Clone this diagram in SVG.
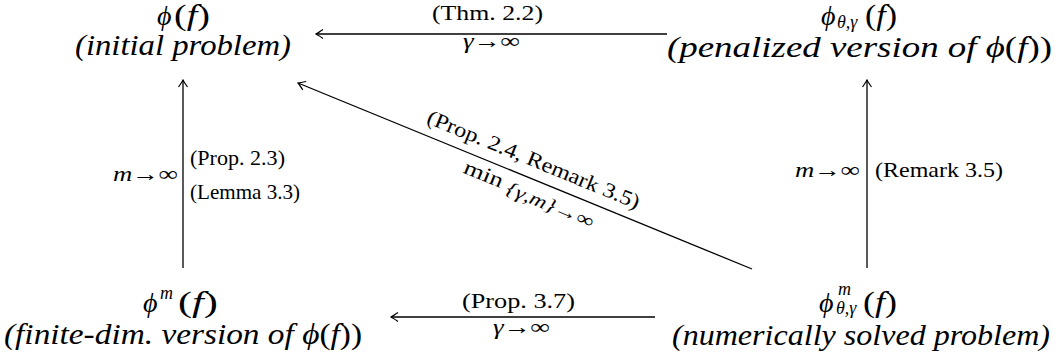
<svg xmlns="http://www.w3.org/2000/svg" width="1055" height="358" viewBox="0 0 1055 358">
<defs>
<style>
text{font-family:"Liberation Serif","DejaVu Serif",serif;fill:#000}
.n{font-size:30px}
.m{font-size:29px}
.phi{font-size:28px;font-style:italic}
.i{font-style:italic}
.sub{font-size:18px;font-style:italic}
.l{font-size:21px}
.s{font-size:19px}
.conn line{stroke:#000;stroke-width:1.3;fill:none;marker-end:url(#ah)}
</style>
<marker id="ah" viewBox="-10 -6 12 12" refX="0" refY="0" markerWidth="12" markerHeight="12" markerUnits="userSpaceOnUse" orient="auto">
<path d="M-7,-4.5 Q-2,-1 0,0 Q-2,1 -7,4.5" fill="none" stroke="#000" stroke-width="1.2"/>
</marker>
</defs>
<rect width="1055" height="358" fill="#fff"/>
<g id="connectors" class="conn">
<line x1="667" y1="34" x2="316" y2="34"/>
<line x1="655" y1="317" x2="391" y2="317"/>
<line x1="183" y1="268" x2="183" y2="80"/>
<line x1="867" y1="268" x2="867" y2="80"/>
<line x1="752" y1="269" x2="298" y2="83"/>
</g>
<g id="labels">
<text class="l" x="432" y="20" textLength="111" lengthAdjust="spacingAndGlyphs">(Thm. 2.2)</text>
<text class="l i" x="463" y="48" textLength="57" lengthAdjust="spacingAndGlyphs">γ→∞</text>
<text class="l" x="462" y="308" textLength="113" lengthAdjust="spacingAndGlyphs">(Prop. 3.7)</text>
<text class="l i" x="493" y="334" textLength="57" lengthAdjust="spacingAndGlyphs">γ→∞</text>
<text class="l i" x="113" y="181" textLength="65" lengthAdjust="spacingAndGlyphs">m→∞</text>
<text class="l" x="190" y="165" textLength="95" lengthAdjust="spacingAndGlyphs">(Prop. 2.3)</text>
<text class="l" x="190" y="199" textLength="110" lengthAdjust="spacingAndGlyphs">(Lemma 3.3)</text>
<text class="l i" x="795" y="177" textLength="65" lengthAdjust="spacingAndGlyphs">m→∞</text>
<text class="l" x="875" y="177" textLength="128" lengthAdjust="spacingAndGlyphs">(Remark 3.5)</text>
<text class="l" transform="translate(531,166) rotate(22.3)" x="-114" y="0" textLength="228" lengthAdjust="spacingAndGlyphs">(Prop. 2.4, Remark 3.5)</text>
<text class="l" transform="translate(527,199) rotate(22.3)" x="-70" y="0" textLength="140" lengthAdjust="spacingAndGlyphs">min <tspan class="s i" dy="3">{γ,m}→∞</tspan></text>
</g>
<g id="node-initial">
<text class="phi" x="157" y="25">ϕ</text>
<text class="m" x="174" y="25" textLength="36" lengthAdjust="spacingAndGlyphs">(<tspan class="i">f</tspan>)</text>
<text class="n i" x="75" y="55" textLength="216" lengthAdjust="spacingAndGlyphs">(initial problem)</text>
</g>
<g id="node-penalized">
<text class="phi" x="821" y="25">ϕ</text>
<text class="sub" x="837" y="28">θ,γ</text>
<text class="m" x="865" y="25" textLength="32" lengthAdjust="spacingAndGlyphs">(<tspan class="i">f</tspan>)</text>
<text class="n" x="667" y="57" textLength="385" lengthAdjust="spacingAndGlyphs"><tspan class="i">(penalized version of </tspan><tspan class="i">ϕ</tspan>(<tspan class="i">f</tspan>))</text>
</g>
<g id="node-finite">
<text class="phi" x="143" y="312">ϕ</text>
<text class="sub" x="160" y="299">m</text>
<text class="m" x="178" y="312" textLength="40" lengthAdjust="spacingAndGlyphs">(<tspan class="i">f</tspan>)</text>
<text class="n" x="4" y="344" textLength="358" lengthAdjust="spacingAndGlyphs"><tspan class="i">(finite-dim. version of </tspan><tspan class="i">ϕ</tspan>(<tspan class="i">f</tspan>))</text>
</g>
<g id="node-numerical">
<text class="phi" x="819" y="312">ϕ</text>
<text class="sub" x="838" y="295">m</text>
<text class="sub" x="836" y="314">θ,γ</text>
<text class="m" x="863" y="312" textLength="34" lengthAdjust="spacingAndGlyphs">(<tspan class="i">f</tspan>)</text>
<text class="n i" x="672" y="345" textLength="378" lengthAdjust="spacingAndGlyphs">(numerically solved problem)</text>
</g>
</svg>
